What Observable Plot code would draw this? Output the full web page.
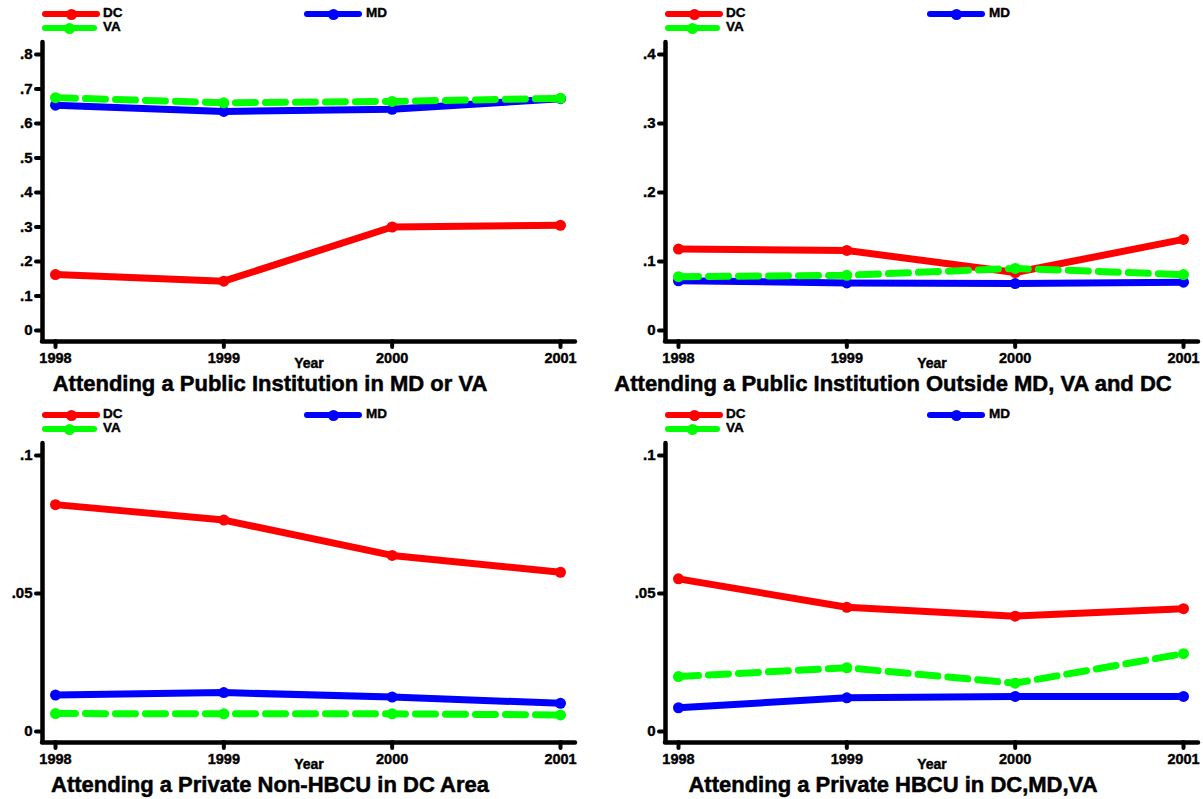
<!DOCTYPE html>
<html>
<head>
<meta charset="utf-8">
<script src="https://cdn.jsdelivr.net/npm/d3@7"></script>
<script src="https://cdn.jsdelivr.net/npm/@observablehq/plot@0.6"></script>
<style>
  body { margin: 0; background: #fff; font-family: "Liberation Sans", Arial, sans-serif; font-weight: bold; }
  #chart { position: relative; width: 1203px; height: 799px; overflow: hidden; background: #fff; }
  .panel { position: absolute; width: 600px; height: 398px; }
  .leg-line { position: absolute; height: 6px; border-radius: 3px; }
  .leg-dot { position: absolute; width: 11px; height: 11px; border-radius: 50%; }
  .leg-text { position: absolute; font-size: 13.5px; line-height: 14px; color: #000; -webkit-text-stroke: 0.4px #000; }
  .title { position: absolute; font-size: 22px; line-height: 18px; white-space: nowrap; transform: translateX(-50%); color: #000; -webkit-text-stroke: 0.5px #000; }
  .svgwrap { position: absolute; left: 0; top: 36px; }
  .svgwrap text { stroke: #000; stroke-width: 0.4px; }
</style>
</head>
<body>
<div id="chart"></div>
<script>
// ---- Data ----
const years = [1998, 1999, 2000, 2001];
const seriesNames = ["DC", "MD", "VA"];
const seriesColors = ["#ff0000", "#0000ff", "#00ff00"];

// Panel 1: Attending a Public Institution in MD or VA
const publicMdVaDC = [0.162, 0.143, 0.300, 0.305];
const publicMdVaMD = [0.653, 0.635, 0.641, 0.672];
const publicMdVaVA = [0.675, 0.660, 0.664, 0.673];

// Panel 2: Attending a Public Institution Outside MD, VA and DC
const publicOutsideDC = [0.118, 0.116, 0.084, 0.132];
const publicOutsideMD = [0.072, 0.069, 0.068, 0.070];
const publicOutsideVA = [0.078, 0.080, 0.090, 0.081];

// Panel 3: Attending a Private Non-HBCU in DC Area
const privateNonHbcuDC = [0.0822, 0.0766, 0.0638, 0.0577];
const privateNonHbcuMD = [0.0132, 0.0141, 0.0125, 0.0102];
const privateNonHbcuVA = [0.0065, 0.0064, 0.0064, 0.0060];

// Panel 4: Attending a Private HBCU in DC,MD,VA
const privateHbcuDC = [0.0553, 0.0450, 0.0418, 0.0445];
const privateHbcuMD = [0.0086, 0.0122, 0.0127, 0.0127];
const privateHbcuVA = [0.0199, 0.0231, 0.0175, 0.0282];

// Tick labels
const ticksPanel1 = [0, 0.1, 0.2, 0.3, 0.4, 0.5, 0.6, 0.7, 0.8];
const ticksPanel2 = [0, 0.1, 0.2, 0.3, 0.4];
const ticksPanel3 = [0, 0.05, 0.1];
const ticksPanel4 = [0, 0.05, 0.1];

const titles = [
  "Attending a Public Institution in MD or VA",
  "Attending a Public Institution Outside MD, VA and DC",
  "Attending a Private Non-HBCU in DC Area",
  "Attending a Private HBCU in DC,MD,VA"
];
const xAxisTitle = "Year";

// ---- Build ----
const panels = [
  { left: 0,   top: 0,   title: titles[0], values: [publicMdVaDC, publicMdVaMD, publicMdVaVA], ticks: ticksPanel1 },
  { left: 623, top: 0,   title: titles[1], values: [publicOutsideDC, publicOutsideMD, publicOutsideVA], ticks: ticksPanel2 },
  { left: 0,   top: 401, title: titles[2], values: [privateNonHbcuDC, privateNonHbcuMD, privateNonHbcuVA], ticks: ticksPanel3 },
  { left: 623, top: 401, title: titles[3], values: [privateHbcuDC, privateHbcuMD, privateHbcuVA], ticks: ticksPanel4 }
];

const fmtY = d => d === 0 ? "0" : String(d).replace(/^0\./, ".");
const chart = document.getElementById("chart");

const legendLayout = [
  { x1: 42,  x2: 100, y: 14, tx: 103 },
  { x1: 304, x2: 362, y: 14, tx: 366 },
  { x1: 42,  x2: 97,  y: 28, tx: 103 }
];

panels.forEach(p => {
  const div = document.createElement("div");
  div.className = "panel";
  div.style.left = p.left + "px";
  div.style.top = p.top + "px";
  chart.appendChild(div);

  // legend
  seriesNames.forEach((name, i) => {
    const L = legendLayout[i];
    const line = document.createElement("div");
    line.className = "leg-line";
    line.style.left = L.x1 + "px";
    line.style.width = (L.x2 - L.x1) + "px";
    line.style.top = (L.y - 3) + "px";
    line.style.background = seriesColors[i];
    div.appendChild(line);
    const dot = document.createElement("div");
    dot.className = "leg-dot";
    dot.style.left = ((L.x1 + L.x2) / 2 - 5.5) + "px";
    dot.style.top = (L.y - 5.5) + "px";
    dot.style.background = seriesColors[i];
    div.appendChild(dot);
    const t = document.createElement("div");
    t.className = "leg-text";
    t.style.left = L.tx + "px";
    t.style.top = (L.y - 8) + "px";
    t.textContent = name;
    div.appendChild(t);
  });

  const yTop = p.ticks[p.ticks.length - 1];
  const marks = [];
  // axis lines
  marks.push(Plot.ruleX([1997.9228], { stroke: "black", strokeWidth: 4.5, strokeLinecap: "round" }));
  marks.push(Plot.ruleY([-0.03986 * yTop], { stroke: "black", strokeWidth: 4.5, strokeLinecap: "round" }));
  marks.push(Plot.axisY({ ticks: p.ticks, tickFormat: fmtY, tickSize: 6, tickPadding: 4, strokeWidth: 4, strokeLinecap: "round", fontSize: 15, fontWeight: "bold", label: null }));
  marks.push(Plot.axisX({ ticks: years, tickFormat: d => String(d), tickSize: 6, tickPadding: 5, strokeWidth: 4, strokeLinecap: "round", fontSize: 14.5, fontWeight: "bold", label: null }));
  marks.push(Plot.text([xAxisTitle], { frameAnchor: "bottom", dy: 26, fontSize: 14, fontWeight: "bold", fill: "black" }));

  seriesNames.forEach((name, i) => {
    const data = years.map((y, j) => ({ year: y, value: p.values[i][j], series: name }));
    const opts = { x: "year", y: "value", stroke: seriesColors[i], strokeWidth: 7, strokeLinecap: "round", strokeLinejoin: "round" };
    if (name === "VA") opts.strokeDasharray = "20,10";
    marks.push(Plot.line(data, opts));
    marks.push(Plot.dot(data, { x: "year", y: "value", r: 5.5, fill: seriesColors[i], stroke: null }));
  });

  const svg = Plot.plot({
    width: 600,
    height: 340,
    marginLeft: 42,
    marginRight: 25,
    marginTop: 6,
    marginBottom: 35,
    style: { fontFamily: "'Liberation Sans', Arial, sans-serif", fontWeight: "bold", fontSize: "13px", color: "black", background: "transparent", overflow: "visible" },
    x: { domain: [1997.9228, 2001.0891], axis: null },
    y: { domain: [-0.03986 * yTop, 1.04348 * yTop], axis: null },
    marks
  });
  const wrap = document.createElement("div");
  wrap.className = "svgwrap";
  wrap.appendChild(svg);
  div.appendChild(wrap);

  const title = document.createElement("div");
  title.className = "title";
  title.style.left = "270px";
  title.style.top = "375px";
  title.textContent = p.title;
  div.appendChild(title);
});
</script>
</body>
</html>
